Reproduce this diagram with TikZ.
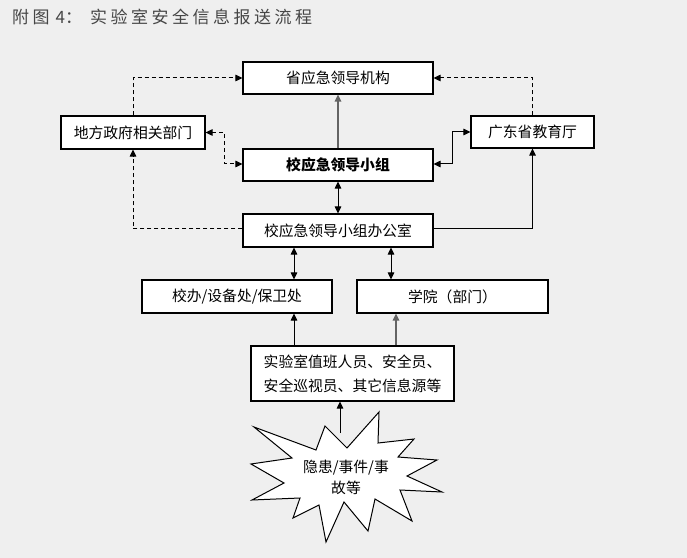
\documentclass[tikz,border=0pt]{standalone}
\usepackage{fontspec}
\setmainfont{Noto Sans CJK SC}
\usetikzlibrary{arrows.meta}
\definecolor{bg}{RGB}{239,239,239}
\definecolor{titlegray}{RGB}{70,70,70}
\definecolor{linegray}{RGB}{100,100,100}
\newcommand{\ts}{\hspace{3.5bp}}
\begin{document}
\begin{tikzpicture}[x=1bp,y=-1bp,
  box/.style={draw=black,line width=1.1bp,fill=white,rectangle,inner sep=0pt,
    font=\fontsize{14.8bp}{24bp}\selectfont,align=center},
  conn/.style={line width=1bp,draw=black},
  tip/.style={-{Triangle[length=7bp,width=6.5bp]}},
  tips/.style={{Triangle[length=7bp,width=6.5bp]}-{Triangle[length=7bp,width=6.5bp]}},
  dsh/.style={dash pattern=on 4bp off 3bp},
  graylink/.style={draw=linegray,line width=1.2bp}
]
% background / bounding box
\fill[bg] (0,0) rectangle (687,558);
\useasboundingbox (0,0) rectangle (687,558);

% title
\node[anchor=west,text=titlegray,font=\fontsize{17bp}{20bp}\selectfont,inner sep=0pt] (title) at (12,17)
  {附\ts 图\hspace{6bp}4\hspace{0bp}：\hspace{8bp}实\ts 验\ts 室\ts 安\ts 全\ts 信\ts 息\ts 报\ts 送\ts 流\ts 程};

% boxes
\node[box,minimum width=190bp,minimum height=32bp] (sheng) at (338,78) {省应急领导机构};
\node[box,minimum width=144bp,minimum height=33bp] (difang) at (133,132.5) {地方政府相关部门};
\node[box,minimum width=190bp,minimum height=32bp] (xiao) at (338,165) {\bfseries 校应急领导小组};
\node[box,minimum width=190bp,minimum height=33bp] (office) at (338,230.5) {校应急领导小组办公室};
\node[box,minimum width=123bp,minimum height=32bp] (gd) at (532.5,132) {广东省教育厅};
\node[box,minimum width=190bp,minimum height=33bp] (xb) at (237,296.5) {校办/设备处/保卫处};
\node[box,minimum width=191bp,minimum height=33bp] (xy) at (452.5,296.5) {学院（部门）};
\node[box,minimum width=203bp,minimum height=55bp] (lab) at (352.5,373.5) {实验室值班人员、安全员、\\安全巡视员、其它信息源等};

% starburst
\draw[line width=1bp,fill=white]
  (254,427) -- (316,450) -- (325,426) -- (347,448) -- (379,412) -- (378,443)
  -- (414,439) -- (398,457) -- (437,460) -- (407,476) -- (442,492) -- (400,490)
  -- (412,521) -- (375,499) -- (368,531) -- (344,502) -- (326,542) -- (319,505)
  -- (293,518) -- (300,498) -- (252,500) -- (284,483) -- (251,464) -- (292,458) -- cycle;
\node[font=\fontsize{14.8bp}{21bp}\selectfont,align=center,inner sep=0pt] (star) at (346,477.5) {隐患/事件/事\\故等};
\coordinate (startip) at (340,433);

% helper x positions
\coordinate (xa) at (294,0);
\coordinate (xc) at (391,0);
\coordinate (xd) at (396,0);

% connectors
\draw[graylink,tip] (xiao.north) -- (sheng.south);
\draw[conn,tips] (xiao.south) -- (office.north);
\draw[conn,dsh,tip] (difang.north) |- (sheng.west);
\draw[conn,dsh,tips] (difang.east) -- ++(19,0) |- ([yshift=1bp]xiao.west);
\draw[conn,dsh,tip] ([yshift=1.5bp]office.west) -| (difang.south);
\draw[conn,dsh,tip] (gd.north) |- (sheng.east);
\draw[conn,tips] ([yshift=1bp]xiao.east) -- ++(19,0) |- (gd.west);
\draw[conn,tip] ([yshift=1.5bp]office.east) -| (gd.south);
\draw[conn,tips] (xa |- office.south) -- (xa |- xb.north);
\draw[conn,tips] (xc |- office.south) -- (xc |- xy.north);
\draw[conn,tip] (xa |- lab.north) -- (xa |- xb.south);
\draw[graylink,tip] (xd |- lab.north) -- (xd |- xy.south);
\draw[conn,tip] (startip) -- (startip |- lab.south);
\end{tikzpicture}
\end{document}
